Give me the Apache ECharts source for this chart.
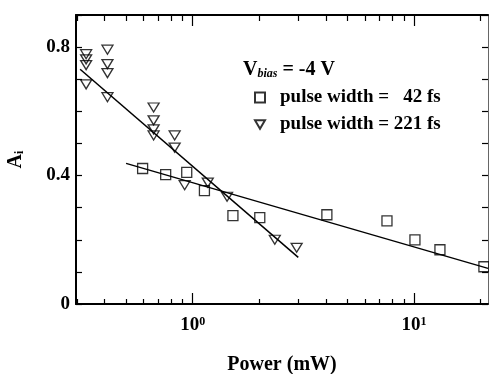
<!DOCTYPE html>
<html>
<head>
<meta charset="utf-8">
<script src="https://cdn.jsdelivr.net/npm/echarts@6/dist/echarts.min.js"></script>
<style>
  html, body { margin: 0; padding: 0; background: #fff; }
  #chart { width: 489px; height: 374px; }
</style>
</head>
<body>
<div id="chart"></div>
<script>
// pulse width = 42 fs (squares)
const sqPower = [0.594, 0.755, 0.94, 1.13, 1.52, 2.01, 4.04, 7.55, 10.1, 13.1, 20.7];
const sqA = [0.422, 0.403, 0.41, 0.353, 0.275, 0.269, 0.278, 0.259, 0.2, 0.169, 0.116];

// pulse width = 221 fs (triangles)
const triPower = [0.33, 0.33, 0.33, 0.33, 0.412, 0.412, 0.412, 0.412,
                  0.666, 0.666, 0.666, 0.666, 0.829, 0.829, 0.92, 1.17, 1.43, 2.35, 2.95];
const triA = [0.778, 0.762, 0.744, 0.684, 0.792, 0.747, 0.719, 0.644,
              0.612, 0.572, 0.544, 0.525, 0.525, 0.487, 0.37, 0.378, 0.334, 0.2, 0.175];

// fitted lines (end points)
const fit42Power = [0.5, 21.6];
const fit42A = [0.438, 0.111];
const fit221Power = [0.31, 3.0];
const fit221A = [0.731, 0.145];

// axis ticks
const xMinorTicks = [0.3, 0.4, 0.5, 0.6, 0.7, 0.8, 0.9, 2, 3, 4, 5, 6, 7, 8, 9, 20];
const xMajorTicks = [1, 10];
const yLabels = [0, 0.4, 0.8];

const FONT = 'Liberation Serif';
const X_MIN = 0.297, X_MAX = 21.6;

function pairs(xs, ys) { return xs.map((x, i) => [x, ys[i]]); }

const triPath = 'path://M0,0 L10,0 L5,8.6 Z';

function xAxisDef(pos, ticks, len, showLine, showLabel) {
  return {
    type: 'log', position: pos, min: X_MIN, max: X_MAX,
    axisLine: { show: showLine, onZero: false, lineStyle: { color: '#000', width: 2 } },
    axisTick: { show: true, inside: true, length: len, customValues: ticks, lineStyle: { color: '#000', width: 1.2 } },
    axisLabel: {
      show: showLabel, customValues: xMajorTicks, margin: 12,
      formatter: v => '{b|10}{s|' + Math.round(Math.log10(v)) + '}',
      rich: {
        b: { fontFamily: FONT, fontWeight: 'bold', fontSize: 19, color: '#000' },
        s: { fontFamily: FONT, fontWeight: 'bold', fontSize: 12, color: '#000', verticalAlign: 'top' }
      }
    },
    splitLine: { show: false }
  };
}

const chart = echarts.init(document.getElementById('chart'));
const option = {
  backgroundColor: '#fff',
  animation: false,
  grid: { left: 76, top: 15, right: 1, bottom: 70, containLabel: false, outerBoundsMode: 'none' },
  legend: {
    orient: 'vertical', left: 249, top: 83,
    itemWidth: 10, itemHeight: 10, itemGap: 8,
    data: ['pulse width =   42 fs', 'pulse width = 221 fs'],
    textStyle: { fontFamily: FONT, fontWeight: 'bold', fontSize: 19, lineHeight: 17, color: '#000', padding: [0, 0, 0, 10] }
  },
  graphic: [{
    type: 'text', left: 243, top: 60,
    style: {
      text: '{v|V}{s|bias}{v| = -4 V}',
      rich: {
        v: { fontFamily: FONT, fontWeight: 'bold', fontSize: 20, fill: '#000' },
        s: { fontFamily: FONT, fontWeight: 'bold', fontStyle: 'italic', fontSize: 12, fill: '#000', verticalAlign: 'bottom' }
      }
    }
  }],
  xAxis: [
    Object.assign(xAxisDef('bottom', xMinorTicks, 5, true, true), {
      name: 'Power (mW)', nameLocation: 'middle', nameGap: 51,
      nameTextStyle: { fontFamily: FONT, fontWeight: 'bold', fontSize: 20, color: '#000' }
    }),
    xAxisDef('bottom', xMajorTicks, 11, false, false),
    xAxisDef('top', xMinorTicks, 6, true, false),
    xAxisDef('top', xMajorTicks, 11, false, false)
  ],
  yAxis: [{
    type: 'value', position: 'left', min: 0, max: 0.9, interval: 0.1,
    axisLine: { show: true, onZero: false, lineStyle: { color: '#000', width: 2 } },
    axisTick: { show: true, inside: true, length: 6, lineStyle: { color: '#000', width: 1.2 } },
    axisLabel: {
      margin: 6, fontFamily: FONT, fontWeight: 'bold', fontSize: 19, color: '#000',
      formatter: v => yLabels.some(l => Math.abs(l - v) < 1e-6) ? String(+v.toFixed(1)) : ''
    },
    splitLine: { show: false },
    name: '{a|A}{s|i}', nameLocation: 'middle', nameRotate: 90, nameGap: 50,
    nameTextStyle: {
      rich: {
        a: { fontFamily: FONT, fontWeight: 'bold', fontSize: 20, color: '#000' },
        s: { fontFamily: FONT, fontWeight: 'bold', fontSize: 12, color: '#000', verticalAlign: 'bottom' }
      }
    }
  }, {
    type: 'value', position: 'right', min: 0, max: 0.9, interval: 0.1,
    axisLine: { show: true, onZero: false, lineStyle: { color: '#666', width: 1 } },
    axisTick: { show: true, inside: true, length: 6, lineStyle: { color: '#000', width: 1.2 } },
    axisLabel: { show: false },
    splitLine: { show: false }
  }],
  series: [
    {
      name: 'pulse width =   42 fs', type: 'scatter', xAxisIndex: 0, yAxisIndex: 0,
      symbol: 'rect', symbolSize: 10,
      itemStyle: { color: 'rgba(255,255,255,0)', borderColor: '#000', borderWidth: 1.3 },
      data: pairs(sqPower, sqA), z: 3
    },
    {
      name: 'pulse width = 221 fs', type: 'scatter', xAxisIndex: 0, yAxisIndex: 0,
      symbol: triPath, symbolSize: [11, 9],
      itemStyle: { color: 'rgba(255,255,255,0)', borderColor: '#000', borderWidth: 1.3 },
      data: pairs(triPower, triA), z: 3
    },
    {
      name: 'fit42', type: 'line', xAxisIndex: 0, yAxisIndex: 0, symbol: 'none',
      lineStyle: { color: '#000', width: 1.3 }, data: pairs(fit42Power, fit42A), z: 2
    },
    {
      name: 'fit221', type: 'line', xAxisIndex: 0, yAxisIndex: 0, symbol: 'none',
      lineStyle: { color: '#000', width: 1.5 }, data: pairs(fit221Power, fit221A), z: 2
    }
  ]
};
chart.setOption(option);
</script>
</body>
</html>
